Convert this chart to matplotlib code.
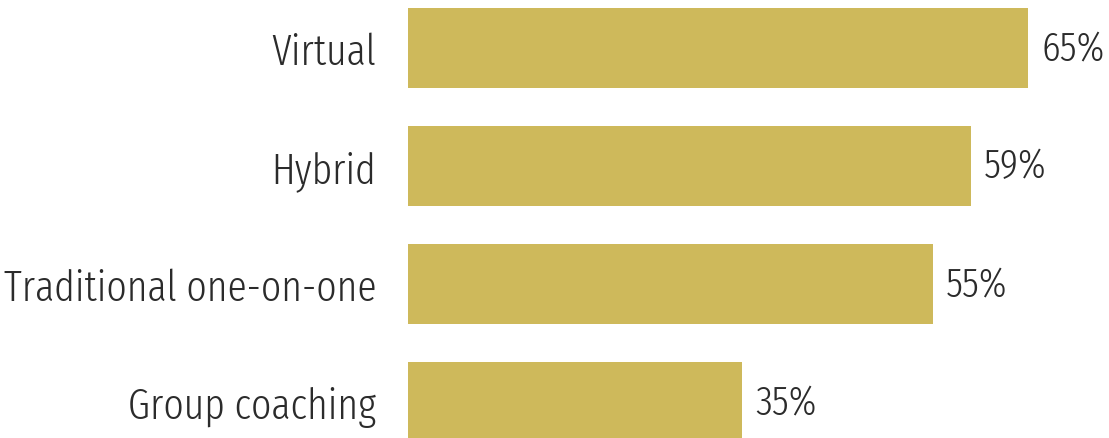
import matplotlib
matplotlib.use("Agg")
import matplotlib.pyplot as plt

# data
categories = ["Virtual", "Hybrid", "Traditional one-on-one", "Group coaching"]
values = [65, 59, 55, 35]
value_labels = ["65%", "59%", "55%", "35%"]

plt.rcParams["font.family"] = ["Fira Sans Extra Condensed", "DejaVu Sans"]
plt.rcParams["font.weight"] = 300

bar_color = "#CEB95B"
text_color = "#2b2b2b"

fig = plt.figure(figsize=(11.09, 4.39), dpi=100)
ax = fig.add_axes([408 / 1109, 0, 701 / 1109, 1])

ypos = list(range(len(categories)))
ax.barh(ypos, values, height=0.68, color=bar_color)
ax.set_xlim(0, 73.5)
ax.set_ylim(3.305, -0.415)

ax.set_yticks(ypos)
ax.set_yticklabels(categories, fontsize=31, color=text_color)
ax.tick_params(axis="y", length=0, pad=23)
ax.set_xticks([])
for s in ax.spines.values():
    s.set_visible(False)

for y, v, lab in zip(ypos, values, value_labels):
    ax.annotate(lab, (v, y), xytext=(9.5, 0), textcoords="offset points",
                va="center", ha="left", fontsize=30, color=text_color)

fig.savefig("out.png", dpi=100)
